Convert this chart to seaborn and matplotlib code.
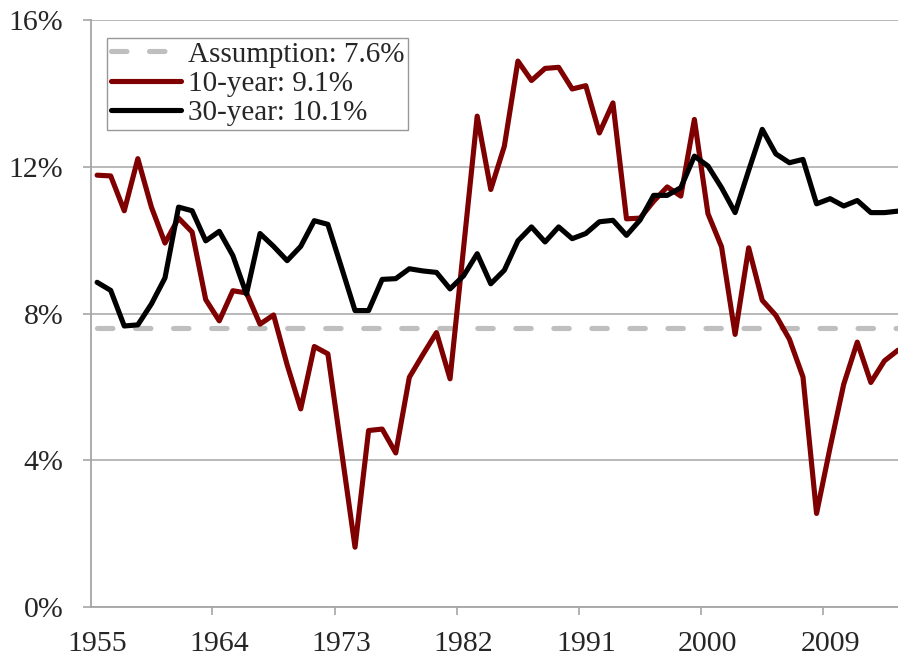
import numpy as np
import pandas as pd
import seaborn as sns
import matplotlib.pyplot as plt
from matplotlib.ticker import FixedLocator, PercentFormatter

# --- Data (annualised returns, %) ---
years = list(range(1955, 2015))

ten_year = [
    11.77, 11.75, 10.80, 12.22, 10.90, 9.92, 10.60, 10.22, 8.38, 7.80,
    8.62, 8.56, 7.71, 7.96, 6.60, 5.40, 7.10, 6.90, 4.27, 1.63,
    4.81, 4.85, 4.20, 6.26, 6.88, 7.48, 6.22, 9.80, 13.38, 11.38,
    12.56, 14.88, 14.35, 14.68, 14.71, 14.12, 14.21, 12.92, 13.74, 10.58,
    10.60, 11.06, 11.45, 11.20, 13.29, 10.72, 9.82, 7.43, 9.79, 8.36,
    7.95, 7.30, 6.27, 2.55, 4.35, 6.07, 7.22, 6.12, 6.71, 7.00,
]

thirty_year = [
    8.85, 8.63, 7.66, 7.69, 8.26, 8.97, 10.90, 10.80, 9.98, 10.24,
    9.58, 8.53, 10.18, 9.83, 9.44, 9.83, 10.53, 10.43, 9.26, 8.08,
    8.08, 8.93, 8.95, 9.22, 9.16, 9.12, 8.67, 9.03, 9.63, 8.81,
    9.18, 9.98, 10.36, 9.95, 10.36, 10.04, 10.18, 10.50, 10.54, 10.13,
    10.55, 11.22, 11.22, 11.43, 12.29, 12.02, 11.43, 10.75, 11.90, 13.02,
    12.35, 12.11, 12.20, 10.99, 11.13, 10.93, 11.08, 10.75, 10.75, 10.79,
]

assumption = 7.6
labels = ["Assumption: 7.6%", "10-year: 9.1%", "30-year: 10.1%"]
tick_years = [1955, 1964, 1973, 1982, 1991, 2000, 2009]

df = pd.DataFrame({
    "year": years,
    "assumption": [assumption] * len(years),
    "ten": ten_year,
    "thirty": thirty_year,
})

# --- Style ---
sns.set_theme(style="white")
plt.rcParams["font.family"] = ["Liberation Serif", "DejaVu Serif"]

fig = plt.figure(figsize=(8.98, 6.62), dpi=100)
ax = fig.add_axes([91 / 898, 55 / 662, 807 / 898, 587 / 662])

LW = 3.7
sns.lineplot(data=df, x="year", y="assumption", ax=ax, color="#bfbfbf",
             lw=LW, label=labels[0], zorder=2)
ax.lines[-1].set_dashes((3.0, 4.4))
ax.lines[-1].set_dash_capstyle("round")
sns.lineplot(data=df, x="year", y="ten", ax=ax, color="#7f0000",
             lw=LW, label=labels[1], zorder=3)
sns.lineplot(data=df, x="year", y="thirty", ax=ax, color="black",
             lw=LW, label=labels[2], zorder=4)

# --- Axes ---
ax.set_xlim(1954.55, 2014.0)
ax.set_ylim(0, 16)
ax.set_xlabel("")
ax.set_ylabel("")

ax.set_yticks([0, 4, 8, 12, 16])
ax.yaxis.set_major_formatter(PercentFormatter(xmax=100, decimals=0))
ax.yaxis.grid(True, color="#b3b3b3", lw=1.3)
ax.xaxis.grid(False)

ax.set_xticks(tick_years)
ax.xaxis.set_minor_locator(FixedLocator([y - 0.5 for y in tick_years]))
ax.tick_params(axis="x", which="major", length=0, pad=17, labelsize=21.5)
ax.tick_params(axis="x", which="minor", length=6, width=1.2,
               color="#a6a6a6", direction="out", bottom=True)
ax.tick_params(axis="y", which="major", length=6, width=1.2,
               color="#a6a6a6", direction="out", left=True, pad=14,
               labelsize=21.5)

for side in ["top", "right"]:
    ax.spines[side].set_visible(False)
for side in ["left", "bottom"]:
    ax.spines[side].set_color("#a6a6a6")
    ax.spines[side].set_linewidth(1.3)

leg = ax.legend(loc="upper left", bbox_to_anchor=(0.02, 0.97),
                borderaxespad=0, frameon=True, fancybox=False,
                fontsize=21, handlelength=2.4, handletextpad=0.25,
                labelspacing=0.1, borderpad=0.12)
leg.get_frame().set_edgecolor("#7f7f7f")
leg.get_frame().set_linewidth(1.0)

fig.savefig("out.png", dpi=100)
